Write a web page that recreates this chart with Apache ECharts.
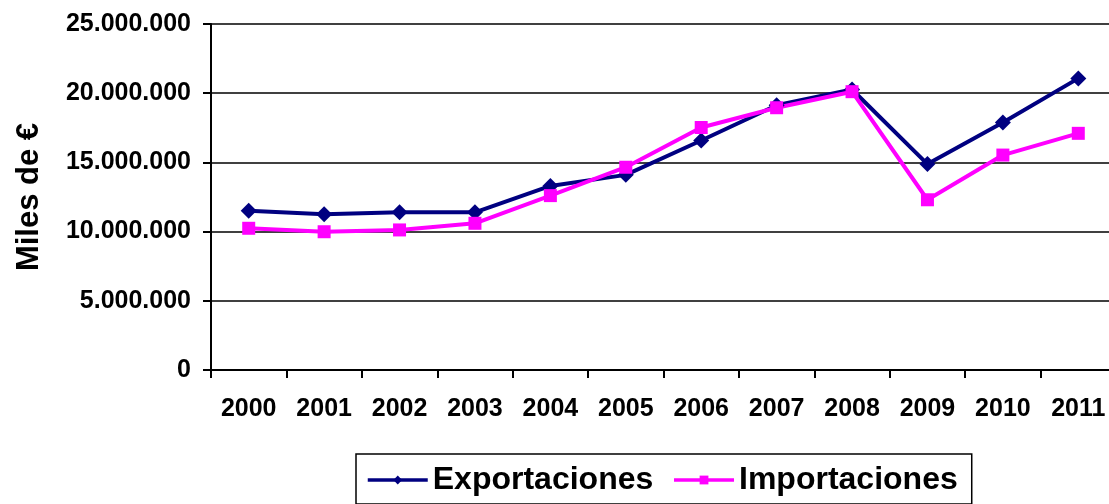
<!DOCTYPE html>
<html>
<head>
<meta charset="utf-8">
<script src="https://cdn.jsdelivr.net/npm/echarts@6/dist/echarts.min.js"></script>
<style>
  html, body { margin: 0; padding: 0; background: #fff; overflow: hidden; }
  /* un poco más ancho que la ventana: el eje x se sale por la derecha como en el original */
  #chart { width: 1117px; height: 504px; }
</style>
</head>
<body>
<div id="chart"></div>
<script>
const years = ['2000', '2001', '2002', '2003', '2004', '2005', '2006', '2007', '2008', '2009', '2010', '2011'];
const exportaciones = [11510000, 11250000, 11390000, 11390000, 13300000, 14100000, 16580000, 19130000, 20270000, 14880000, 17880000, 21070000];
const importaciones = [10240000, 9990000, 10120000, 10600000, 12600000, 14650000, 17520000, 18950000, 20110000, 12300000, 15530000, 17100000];
const yTicks = [0, 5000000, 10000000, 15000000, 20000000, 25000000];

const font = '"Liberation Sans", Arial, sans-serif';
// 20000000 -> 20.000.000
const fmt = v => String(v).replace(/\B(?=(\d{3})+(?!\d))/g, '.');

const chart = echarts.init(document.getElementById('chart'));
chart.setOption({
    animation: false,
    backgroundColor: '#fff',
    grid: { left: 211, top: 24, right: 1, bottom: 134, containLabel: false },
    xAxis: {
        type: 'category',
        data: years,
        boundaryGap: true,
        axisLine: { lineStyle: { color: '#000', width: 2 } },
        axisTick: { show: true, interval: 0, length: 8, lineStyle: { color: '#000', width: 2 } },
        axisLabel: { interval: 0, margin: 27, color: '#000', fontFamily: font, fontWeight: 'bold', fontSize: 25 }
    },
    yAxis: {
        type: 'value',
        min: yTicks[0],
        max: yTicks[yTicks.length - 1],
        interval: yTicks[1] - yTicks[0],
        name: 'Miles de €',
        nameLocation: 'middle',
        nameRotate: 90,
        nameGap: 166,
        nameTextStyle: { color: '#000', fontFamily: font, fontWeight: 'bold', fontSize: 31 },
        axisLine: { show: true, lineStyle: { color: '#000', width: 2 } },
        axisTick: { show: true, length: 8, lineStyle: { color: '#000', width: 2 } },
        axisLabel: { margin: 20, color: '#000', fontFamily: font, fontWeight: 'bold', fontSize: 25, formatter: fmt },
        splitLine: { show: true, lineStyle: { color: '#000', width: 1.5 } }
    },
    legend: {
        left: 356,
        top: 454,
        itemWidth: 60,
        itemHeight: 11,
        itemGap: 19,
        padding: [10, 14, 8, 10],
        borderColor: '#000',
        borderWidth: 1.5,
        lineStyle: { width: 3.5 },
        textStyle: { color: '#000', fontFamily: font, fontWeight: 'bold', fontSize: 32 },
        data: ['Exportaciones', 'Importaciones']
    },
    series: [
        {
            name: 'Exportaciones',
            type: 'line',
            data: exportaciones,
            symbol: 'diamond',
            symbolSize: 16,
            color: '#000080',
            lineStyle: { width: 4, color: '#000080' },
            itemStyle: { color: '#000080' }
        },
        {
            name: 'Importaciones',
            type: 'line',
            data: importaciones,
            symbol: 'rect',
            symbolSize: 13,
            color: '#ff00ff',
            lineStyle: { width: 4, color: '#ff00ff' },
            itemStyle: { color: '#ff00ff' }
        }
    ]
});
</script>
</body>
</html>
